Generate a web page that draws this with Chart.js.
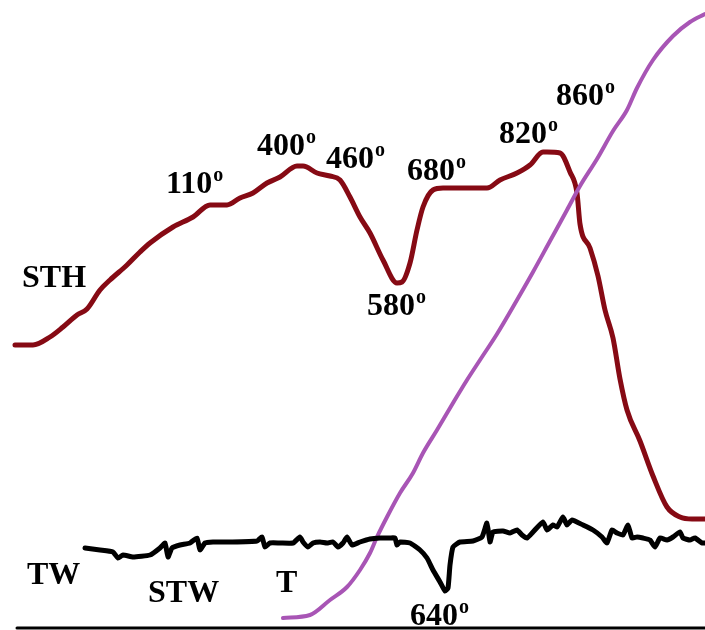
<!DOCTYPE html>
<html>
<head>
<meta charset="utf-8">
<script src="https://cdn.jsdelivr.net/npm/chart.js@4/dist/chart.umd.min.js"></script>
<style>
  html, body { margin: 0; padding: 0; background: #fff; }
  #wrap { width: 705px; height: 630px; }
</style>
</head>
<body>
<div id="wrap"><canvas id="c" width="705" height="630"></canvas></div>
<script>
// STH curve (time, signal)
const sthX = [15, 33, 50, 63, 77, 87, 100, 110, 127, 140,
              150, 173, 193, 210, 227, 240, 253, 267, 280, 297,
              303, 317, 330, 340, 350, 360, 370, 383, 397, 402,
              410, 417, 423, 433, 443, 487, 500, 517, 530, 543,
              547, 560, 570, 577, 580, 590, 598, 605, 613, 620,
              627, 640, 653, 667, 680, 692, 705];
const sthY = [285, 285, 293, 303, 315, 321, 340, 350, 365, 378,
              387, 403, 413, 425, 425, 432, 437, 447, 453, 464,
              464, 457, 454, 450, 433, 413, 397, 370, 347, 348,
              367, 400, 423, 440, 442, 442, 450, 457, 465, 478,
              478, 477, 458, 437, 406, 382, 354, 320, 292, 251,
              220, 189, 154, 123, 113, 111, 111];

// T (temperature) curve
const tX = [283, 310, 330, 347, 360, 370, 377, 387, 400, 413,
            423, 437, 453, 467, 480, 497, 517, 533, 550, 567,
            580, 597, 613, 627, 637, 653, 673, 690, 705];
const tY = [12, 15, 30, 43, 60, 77, 93, 113, 137, 157,
            177, 200, 227, 250, 270, 296, 330, 358, 389, 420,
            444, 471, 499, 520, 542, 570, 594, 608, 616];

// TW curve
const twX = [85, 100, 113, 118, 123, 133, 150, 160, 165, 168,
             172, 180, 190, 197, 200, 205, 213, 230, 257, 262,
             265, 270, 280, 293, 300, 303, 308, 313, 320, 327,
             333, 338, 343, 347, 352, 360, 370, 380, 390, 395,
             397, 400, 410, 420, 427, 433, 440, 445, 448, 450,
             453, 460, 473, 482, 487, 490, 493, 503, 510, 517,
             522, 527, 533, 543, 547, 553, 557, 563, 567, 572,
             583, 593, 602, 607, 612, 617, 623, 628, 632, 637,
             643, 650, 655, 660, 667, 673, 680, 683, 690, 695,
             702, 705];
const twY = [82, 80, 78, 72, 75, 73, 75, 82, 87, 73,
             82, 85, 87, 92, 80, 87, 88, 88, 89, 93,
             83, 87, 87, 87, 93, 88, 83, 87, 88, 87,
             88, 83, 87, 93, 85, 88, 91, 92, 92, 92,
             85, 88, 87, 80, 72, 60, 48, 39, 42, 65,
             83, 88, 89, 93, 107, 88, 98, 99, 97, 100,
             95, 92, 98, 108, 100, 105, 103, 113, 105, 110,
             105, 100, 93, 87, 100, 97, 95, 105, 92, 93,
             92, 90, 83, 92, 90, 93, 98, 92, 90, 92,
             87, 87];

// base line
const baseX = [17, 705];
const baseY = [2, 2];

// annotations
const labelText = ['STH', '110', '400', '460', '680', '820', '860', '580', '640', 'TW', 'STW', 'T'];
const labelX    = [22, 166, 257, 326, 407, 499, 556, 367, 410, 27, 148, 276];
const labelY    = [343, 437, 475, 462, 450, 487, 525, 315, 5, 46, 28, 38];
const labelDeg  = [false, true, true, true, true, true, true, true, true, false, false, false];

function pts(xs, ys) {
  return xs.map(function (x, i) { return { x: x, y: ys[i] }; });
}

const labelPlugin = {
  id: 'labels',
  afterDatasetsDraw: function (chart) {
    const ctx = chart.ctx;
    const xs = chart.scales.x, ys = chart.scales.y;
    ctx.save();
    ctx.fillStyle = '#000';
    ctx.textBaseline = 'alphabetic';
    ctx.textAlign = 'left';
    labelText.forEach(function (t, i) {
      const px = xs.getPixelForValue(labelX[i]);
      const py = ys.getPixelForValue(labelY[i]);
      ctx.font = 'bold 32px "Liberation Serif", "Times New Roman", serif';
      ctx.fillText(t, px, py);
      if (labelDeg[i]) {
        const w = ctx.measureText(t).width;
        ctx.font = 'bold 20px "Liberation Serif", "Times New Roman", serif';
        ctx.fillText('o', px + w + 1, py - 12);
      }
    });
    ctx.restore();
  }
};

new Chart(document.getElementById('c'), {
  type: 'line',
  data: {
    datasets: [
      { label: 'base', data: pts(baseX, baseY), borderColor: '#000', borderWidth: 3, tension: 0 },
      { label: 'TW', data: pts(twX, twY), borderColor: '#000', borderWidth: 5, tension: 0.15 },
      { label: 'T', data: pts(tX, tY), borderColor: '#a855b5', borderWidth: 4, cubicInterpolationMode: 'monotone' },
      { label: 'STH', data: pts(sthX, sthY), borderColor: '#860a14', borderWidth: 5, cubicInterpolationMode: 'monotone' }
    ]
  },
  options: {
    responsive: false,
    animation: false,
    devicePixelRatio: 1,
    layout: { padding: 0 },
    elements: {
      point: { radius: 0 },
      line: { borderJoinStyle: 'round', borderCapStyle: 'round', fill: false }
    },
    scales: {
      x: { type: 'linear', min: 0, max: 705, display: false },
      y: { type: 'linear', min: 0, max: 630, display: false }
    },
    plugins: { legend: { display: false }, tooltip: { enabled: false } }
  },
  plugins: [labelPlugin]
});
</script>
</body>
</html>
